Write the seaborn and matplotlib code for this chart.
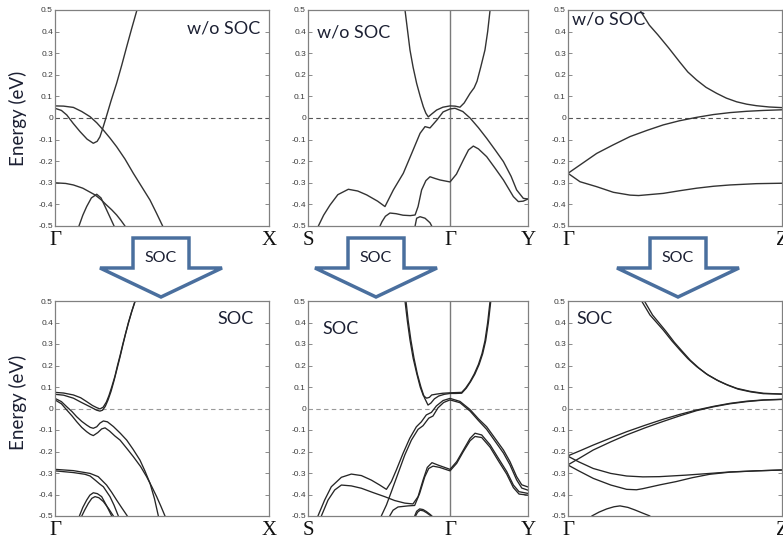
import matplotlib
matplotlib.use("Agg")
import matplotlib.pyplot as plt
from matplotlib.patches import Polygon
from matplotlib.ticker import FormatStrFormatter
import pandas as pd
import seaborn as sns

# ---------------- band data: (k, E[eV]) ----------------
# Gamma-X, without SOC
gx_wo_1 = [(0.0, 0.045), (0.03, 0.035), (0.055, 0.014), (0.085, -0.025), (0.117, -0.063),
           (0.15, -0.098), (0.179, -0.117), (0.197, -0.108), (0.21, -0.087), (0.224, -0.045),
           (0.238, 0.0), (0.262, 0.08), (0.288, 0.161), (0.312, 0.245), (0.335, 0.33),
           (0.358, 0.413), (0.383, 0.5)]
gx_wo_2 = [(0.0, 0.056), (0.04, 0.055), (0.086, 0.049), (0.125, 0.03), (0.164, 0.006),
           (0.195, -0.022), (0.226, -0.056), (0.257, -0.093), (0.288, -0.133), (0.327, -0.19),
           (0.366, -0.256), (0.405, -0.318), (0.444, -0.38), (0.474, -0.44), (0.503, -0.5)]
gx_wo_3 = [(0.0, -0.3), (0.05, -0.303), (0.086, -0.31), (0.13, -0.325), (0.187, -0.356),
           (0.215, -0.378), (0.241, -0.403), (0.265, -0.425), (0.288, -0.449), (0.308, -0.474),
           (0.327, -0.5)]
gx_wo_4 = [(0.112, -0.5), (0.13, -0.45), (0.148, -0.41), (0.17, -0.37), (0.195, -0.353),
           (0.215, -0.37), (0.234, -0.41), (0.255, -0.455), (0.276, -0.5)]

# S-Gamma-Y, without SOC
sgy_wo_1 = [(0.683, 0.5), (0.70, 0.41), (0.718, 0.315), (0.74, 0.235), (0.765, 0.16),
            (0.79, 0.1), (0.812, 0.052), (0.83, 0.022), (0.847, 0.005), (0.87, 0.018),
            (0.906, 0.037), (0.95, 0.05), (1.0, 0.056), (1.035, 0.055), (1.07, 0.05),
            (1.1, 0.07), (1.141, 0.114), (1.17, 0.14), (1.19, 0.17), (1.216, 0.235),
            (1.246, 0.315), (1.265, 0.4), (1.282, 0.5)]
sgy_wo_2 = [(0.073, -0.5), (0.11, -0.45), (0.155, -0.403), (0.21, -0.355), (0.284, -0.33),
            (0.35, -0.338), (0.413, -0.356), (0.49, -0.385), (0.542, -0.41), (0.601, -0.333),
            (0.671, -0.256), (0.73, -0.164), (0.789, -0.071), (0.824, -0.04), (0.859, -0.046),
            (0.908, -0.009), (0.951, 0.028), (1.0, 0.042), (1.035, 0.045), (1.09, 0.03),
            (1.141, 0.0), (1.2, -0.045), (1.258, -0.094), (1.32, -0.15), (1.376, -0.202),
            (1.43, -0.27), (1.469, -0.333), (1.516, -0.372), (1.549, -0.375)]
sgy_wo_3 = [(0.507, -0.5), (0.521, -0.48), (0.545, -0.455), (0.577, -0.44), (0.62, -0.443),
            (0.669, -0.45), (0.72, -0.452), (0.754, -0.449), (0.775, -0.41), (0.80, -0.333),
            (0.83, -0.29), (0.859, -0.272), (0.895, -0.28), (0.93, -0.287), (1.0, -0.296),
            (1.045, -0.26), (1.094, -0.194), (1.13, -0.148), (1.164, -0.13), (1.2, -0.143),
            (1.258, -0.179), (1.32, -0.235), (1.376, -0.287), (1.446, -0.364), (1.481, -0.387),
            (1.515, -0.385), (1.549, -0.375)]
sgy_wo_4 = [(0.754, -0.5), (0.765, -0.464), (0.789, -0.457), (0.824, -0.464), (0.859, -0.485),
            (0.871, -0.5)]

# Gamma-Z, without SOC
gz_wo_1 = [(0.336, 0.5), (0.38, 0.43), (0.42, 0.385), (0.47, 0.325), (0.523, 0.258),
           (0.56, 0.213), (0.601, 0.176), (0.645, 0.142), (0.695, 0.114), (0.74, 0.092),
           (0.788, 0.075), (0.835, 0.064), (0.88, 0.057), (0.94, 0.051), (1.0, 0.048)]
gz_wo_2 = [(0.0, -0.256), (0.067, -0.21), (0.134, -0.164), (0.21, -0.125), (0.29, -0.086),
           (0.37, -0.057), (0.445, -0.032), (0.52, -0.013), (0.601, 0.003), (0.68, 0.016),
           (0.757, 0.025), (0.835, 0.031), (0.913, 0.035), (1.0, 0.038)]
gz_wo_3 = [(0.0, -0.256), (0.056, -0.295), (0.134, -0.318), (0.212, -0.344), (0.29, -0.357),
           (0.33, -0.359), (0.445, -0.349), (0.52, -0.337), (0.601, -0.325), (0.68, -0.316),
           (0.757, -0.31), (0.88, -0.304), (1.0, -0.302)]

# Gamma-X, with SOC
gx_soc_1 = [(0.0, 0.075), (0.04, 0.072), (0.086, 0.063), (0.12, 0.05), (0.148, 0.032),
            (0.175, 0.014), (0.195, 0.004), (0.21, -0.002), (0.225, 0.006), (0.24, 0.03),
            (0.252, 0.06), (0.265, 0.1), (0.28, 0.15), (0.292, 0.2), (0.305, 0.25),
            (0.317, 0.3), (0.33, 0.35), (0.343, 0.4), (0.358, 0.45), (0.374, 0.5)]
gx_soc_2 = [(0.0, 0.066), (0.04, 0.062), (0.086, 0.048), (0.12, 0.03), (0.164, 0.008),
            (0.195, -0.008), (0.21, -0.012), (0.222, -0.008), (0.235, 0.01), (0.248, 0.04),
            (0.262, 0.08), (0.276, 0.13), (0.29, 0.185), (0.304, 0.24), (0.317, 0.295),
            (0.33, 0.348), (0.344, 0.4), (0.359, 0.452), (0.375, 0.5)]
gx_soc_3 = [(0.0, 0.047), (0.03, 0.032), (0.055, 0.008), (0.08, -0.015), (0.101, -0.038),
            (0.125, -0.06), (0.148, -0.077), (0.165, -0.088), (0.179, -0.092), (0.195, -0.085),
            (0.21, -0.068), (0.226, -0.058), (0.245, -0.062), (0.273, -0.084), (0.305, -0.115),
            (0.335, -0.147), (0.365, -0.19), (0.397, -0.24), (0.42, -0.29), (0.444, -0.348),
            (0.465, -0.42), (0.483, -0.5)]
gx_soc_4 = [(0.0, 0.04), (0.03, 0.022), (0.055, -0.007), (0.08, -0.035), (0.101, -0.061),
            (0.125, -0.088), (0.148, -0.108), (0.165, -0.12), (0.179, -0.126), (0.2, -0.112),
            (0.218, -0.095), (0.234, -0.09), (0.255, -0.105), (0.28, -0.128), (0.304, -0.147),
            (0.335, -0.185), (0.366, -0.224), (0.4, -0.27), (0.428, -0.317), (0.453, -0.365),
            (0.475, -0.41), (0.495, -0.455), (0.514, -0.5)]
gx_soc_5 = [(0.0, -0.283), (0.086, -0.289), (0.164, -0.302), (0.202, -0.317), (0.22, -0.335),
            (0.241, -0.356), (0.265, -0.39), (0.288, -0.426), (0.312, -0.462), (0.338, -0.5)]
gx_soc_6 = [(0.0, -0.29), (0.086, -0.298), (0.14, -0.306), (0.164, -0.314), (0.19, -0.335),
            (0.21, -0.352), (0.226, -0.364), (0.257, -0.41), (0.276, -0.45), (0.296, -0.5)]
gx_soc_7 = [(0.114, -0.5), (0.13, -0.46), (0.148, -0.426), (0.163, -0.403), (0.179, -0.392),
            (0.198, -0.396), (0.218, -0.41), (0.24, -0.45), (0.265, -0.5)]
gx_soc_8 = [(0.125, -0.5), (0.14, -0.47), (0.156, -0.441), (0.172, -0.418), (0.187, -0.41),
            (0.205, -0.415), (0.226, -0.433), (0.25, -0.465), (0.273, -0.5)]

# S-Gamma-Y, with SOC
sgy_soc_1 = [(0.683, 0.5), (0.70, 0.405), (0.718, 0.319), (0.74, 0.235), (0.765, 0.164),
             (0.79, 0.1), (0.812, 0.06), (0.835, 0.048), (0.855, 0.052), (0.871, 0.063),
             (0.906, 0.067), (0.95, 0.071), (1.0, 0.073), (1.04, 0.074), (1.082, 0.075),
             (1.11, 0.095), (1.141, 0.125), (1.17, 0.16), (1.2, 0.205), (1.225, 0.255),
             (1.246, 0.315), (1.265, 0.4), (1.282, 0.5)]
sgy_soc_2 = [(0.69, 0.5), (0.705, 0.41), (0.724, 0.32), (0.746, 0.235), (0.77, 0.16),
             (0.795, 0.1), (0.82, 0.05), (0.845, 0.016), (0.865, 0.025), (0.89, 0.045),
             (0.92, 0.058), (0.96, 0.066), (1.0, 0.07), (1.04, 0.07), (1.082, 0.071),
             (1.115, 0.095), (1.145, 0.125), (1.175, 0.16), (1.205, 0.205), (1.23, 0.255),
             (1.251, 0.315), (1.27, 0.4), (1.287, 0.5)]
sgy_soc_3 = [(0.07, -0.5), (0.117, -0.426), (0.164, -0.364), (0.235, -0.32), (0.305, -0.305),
             (0.376, -0.312), (0.446, -0.333), (0.505, -0.356), (0.552, -0.376), (0.587, -0.34),
             (0.622, -0.286), (0.669, -0.209), (0.716, -0.139), (0.763, -0.085), (0.798, -0.062),
             (0.833, -0.03), (0.869, -0.018), (0.904, 0.012), (0.951, 0.037), (1.0, 0.047),
             (1.07, 0.033), (1.141, -0.005), (1.2, -0.048), (1.258, -0.085), (1.317, -0.139),
             (1.376, -0.193), (1.422, -0.247), (1.469, -0.317), (1.505, -0.355), (1.549, -0.365)]
sgy_soc_4 = [(0.516, -0.5), (0.552, -0.449), (0.587, -0.387), (0.634, -0.302), (0.681, -0.217),
             (0.728, -0.147), (0.775, -0.097), (0.81, -0.08), (0.85, -0.045), (0.88, -0.035),
             (0.915, 0.003), (0.955, 0.028), (1.0, 0.04), (1.07, 0.027), (1.141, -0.012),
             (1.2, -0.056), (1.258, -0.097), (1.317, -0.152), (1.376, -0.207), (1.422, -0.262),
             (1.469, -0.332), (1.505, -0.37), (1.549, -0.38)]
sgy_soc_5 = [(0.094, -0.5), (0.141, -0.426), (0.188, -0.379), (0.235, -0.356), (0.305, -0.36),
             (0.376, -0.371), (0.458, -0.391), (0.54, -0.41), (0.61, -0.428), (0.681, -0.44),
             (0.739, -0.444), (0.775, -0.41), (0.81, -0.333), (0.84, -0.274), (0.873, -0.252),
             (0.915, -0.263), (0.962, -0.274), (1.0, -0.283), (1.047, -0.247), (1.094, -0.193),
             (1.141, -0.139), (1.176, -0.115), (1.223, -0.123), (1.282, -0.169), (1.34, -0.231),
             (1.399, -0.293), (1.446, -0.356), (1.486, -0.387), (1.549, -0.395)]
sgy_soc_6 = [(0.575, -0.5), (0.599, -0.473), (0.634, -0.458), (0.704, -0.453), (0.751, -0.451),
             (0.786, -0.395), (0.822, -0.318), (0.85, -0.279), (0.88, -0.268), (0.927, -0.274),
             (1.0, -0.29), (1.047, -0.255), (1.094, -0.2), (1.141, -0.15), (1.176, -0.13),
             (1.223, -0.135), (1.282, -0.18), (1.34, -0.243), (1.399, -0.305), (1.446, -0.368),
             (1.486, -0.398), (1.549, -0.403)]
sgy_soc_7 = [(0.751, -0.5), (0.765, -0.478), (0.786, -0.467), (0.81, -0.47), (0.833, -0.479),
             (0.855, -0.49), (0.873, -0.5)]
sgy_soc_8 = [(0.757, -0.5), (0.772, -0.482), (0.79, -0.473), (0.812, -0.476), (0.835, -0.485),
             (0.856, -0.495), (0.868, -0.5)]

# Gamma-Z, with SOC
gz_soc_1 = [(0.344, 0.5), (0.383, 0.435), (0.445, 0.365), (0.485, 0.315), (0.523, 0.272),
            (0.56, 0.232), (0.601, 0.195), (0.645, 0.162), (0.695, 0.133), (0.74, 0.112),
            (0.788, 0.094), (0.85, 0.08), (0.913, 0.071), (1.0, 0.067)]
gz_soc_2 = [(0.357, 0.5), (0.395, 0.435), (0.457, 0.36), (0.497, 0.308), (0.535, 0.265),
            (0.572, 0.224), (0.612, 0.188), (0.655, 0.155), (0.705, 0.127), (0.75, 0.107),
            (0.795, 0.09), (0.855, 0.077), (0.913, 0.069), (1.0, 0.067)]
gz_soc_3 = [(0.0, -0.22), (0.06, -0.195), (0.118, -0.17), (0.2, -0.137), (0.274, -0.108),
            (0.36, -0.078), (0.445, -0.05), (0.52, -0.028), (0.601, -0.007), (0.68, 0.01),
            (0.757, 0.024), (0.835, 0.034), (0.913, 0.04), (1.0, 0.043)]
gz_soc_4 = [(0.0, -0.262), (0.052, -0.232), (0.118, -0.193), (0.2, -0.155), (0.274, -0.123),
            (0.36, -0.09), (0.445, -0.06), (0.52, -0.035), (0.601, -0.01), (0.68, 0.008),
            (0.757, 0.022), (0.835, 0.032), (0.913, 0.039), (1.0, 0.042)]
gz_soc_5 = [(0.0, -0.222), (0.05, -0.248), (0.118, -0.279), (0.2, -0.302), (0.274, -0.314),
            (0.35, -0.318), (0.427, -0.317), (0.55, -0.31), (0.662, -0.302), (0.757, -0.295),
            (0.88, -0.29), (1.0, -0.286)]
gz_soc_6 = [(0.0, -0.263), (0.05, -0.29), (0.118, -0.325), (0.2, -0.356), (0.274, -0.376),
            (0.32, -0.378), (0.349, -0.373), (0.43, -0.355), (0.505, -0.34), (0.58, -0.322),
            (0.662, -0.306), (0.757, -0.296), (0.88, -0.29), (1.0, -0.286)]
gz_soc_7 = [(0.111, -0.5), (0.145, -0.482), (0.181, -0.467), (0.215, -0.457), (0.243, -0.453),
            (0.28, -0.46), (0.313, -0.472), (0.35, -0.487), (0.383, -0.5)]

# high-symmetry points along each path
gx_ticks, gx_labels = [0.0, 1.0], ["Γ", "X"]
sgy_ticks, sgy_labels = [0.0, 1.0, 1.549], ["S", "Γ", "Y"]
gz_ticks, gz_labels = [0.0, 1.0], ["Γ", "Z"]

panel_titles_top = ["w/o SOC", "w/o SOC", "w/o SOC"]
panel_titles_bottom = ["SOC", "SOC", "SOC"]
energy_ticks = [-0.5, -0.4, -0.3, -0.2, -0.1, 0.0, 0.1, 0.2, 0.3, 0.4, 0.5]

# ---------------- figure ----------------
sns.set_theme(style="white")
plt.rcParams["font.family"] = ["Lato", "DejaVu Sans"]

W, H = 783, 541
fig = plt.figure(figsize=(W / 100, H / 100), dpi=100)
fig.patch.set_facecolor("white")

TEXT_C = "#1c2033"
ARROW_C = "#4a6f9e"


def px_axes(x0, y0, x1, y1):
    return fig.add_axes([x0 / W, 1 - y1 / H, (x1 - x0) / W, (y1 - y0) / H])


def to_frame(bands):
    rows = []
    for i, b in enumerate(bands):
        for k, e in b:
            rows.append({"band": i, "k": k, "E": e})
    return pd.DataFrame(rows)


def draw_panel(ax, bands, ticks, labels, xmax, soc):
    df = to_frame(bands)
    sns.lineplot(data=df, x="k", y="E", units="band", estimator=None, sort=False,
                 color="#262626" if soc else "#333333", linewidth=0.95 if soc else 1.0,
                 legend=False, ax=ax)
    ax.axhline(0, color="#9a9a9a" if soc else "#555555", lw=0.8, ls=(0, (4, 3)), zorder=1)
    if len(ticks) == 3:
        ax.axvline(ticks[1], color="#7a7a7a", lw=1.0, zorder=1)
    ax.set_xlim(0, xmax)
    ax.set_ylim(-0.5, 0.5)
    ax.set_xticks(ticks)
    ax.set_xticklabels(labels, fontfamily="Liberation Serif", fontsize=15, color="#111111")
    ax.tick_params(axis="x", length=0, pad=3.5)
    ax.set_yticks(energy_ticks)
    ax.yaxis.set_major_formatter(FormatStrFormatter("%g"))
    ax.tick_params(axis="y", direction="in", length=3, width=0.6, color="#777777",
                   labelsize=6, labelcolor="#3a3a3a", pad=1.5, left=True, right=True)
    for lab in ax.get_yticklabels():
        lab.set_fontfamily("Liberation Sans")
    ax.set_xlabel("")
    ax.set_ylabel("")
    for sp in ax.spines.values():
        sp.set_color("#808080")
        sp.set_linewidth(0.9)
    ax.set_facecolor("white")


cols = [(55, 269), (308, 528), (568, 782)]
rows = [(10, 226), (301, 516)]

panels = [
    [([gx_wo_1, gx_wo_2, gx_wo_3, gx_wo_4], gx_ticks, gx_labels, 1.0),
     ([sgy_wo_1, sgy_wo_2, sgy_wo_3, sgy_wo_4], sgy_ticks, sgy_labels, 1.549),
     ([gz_wo_1, gz_wo_2, gz_wo_3], gz_ticks, gz_labels, 1.0)],
    [([gx_soc_1, gx_soc_2, gx_soc_3, gx_soc_4, gx_soc_5, gx_soc_6, gx_soc_7, gx_soc_8],
      gx_ticks, gx_labels, 1.0),
     ([sgy_soc_1, sgy_soc_2, sgy_soc_3, sgy_soc_4, sgy_soc_5, sgy_soc_6, sgy_soc_7, sgy_soc_8],
      sgy_ticks, sgy_labels, 1.549),
     ([gz_soc_1, gz_soc_2, gz_soc_3, gz_soc_4, gz_soc_5, gz_soc_6, gz_soc_7],
      gz_ticks, gz_labels, 1.0)],
]

# panel annotation positions (axes fraction)
title_pos = [
    [(0.96, 0.915, "right"), (0.04, 0.895, "left"), (0.02, 0.955, "left")],
    [(0.93, 0.915, "right"), (0.065, 0.87, "left"), (0.04, 0.915, "left")],
]

for r, (y0, y1) in enumerate(rows):
    for c, (x0, x1) in enumerate(cols):
        ax = px_axes(x0, y0, x1, y1)
        bands, ticks, labels, xmax = panels[r][c]
        draw_panel(ax, bands, ticks, labels, xmax, soc=(r == 1))
        tx, ty, ha = title_pos[r][c]
        title = panel_titles_top[c] if r == 0 else panel_titles_bottom[c]
        ax.text(tx, ty, title, transform=ax.transAxes, ha=ha, va="center",
                fontsize=13, color=TEXT_C, zorder=5)

# y-axis titles for the left column
for yc in (118, 402):
    fig.text(18 / W, 1 - yc / H, "Energy (eV)", rotation=90, ha="center", va="center",
             fontsize=13.5, color=TEXT_C)

# hollow block arrows between the rows
for cx in (161, 376, 678):
    verts = [(cx - 28, 238), (cx + 28, 238), (cx + 28, 268), (cx + 61, 268), (cx, 297),
             (cx - 61, 268), (cx - 28, 268)]
    poly = Polygon([(x / W, 1 - y / H) for x, y in verts], closed=True,
                   transform=fig.transFigure, facecolor="white", edgecolor=ARROW_C,
                   linewidth=2.5, joinstyle="miter", zorder=10)
    fig.add_artist(poly)
    fig.text(cx / W, 1 - 258 / H, "SOC", ha="center", va="center", fontsize=11.5,
             color=TEXT_C, zorder=11)

fig.savefig("out.png", dpi=100, facecolor="white")
